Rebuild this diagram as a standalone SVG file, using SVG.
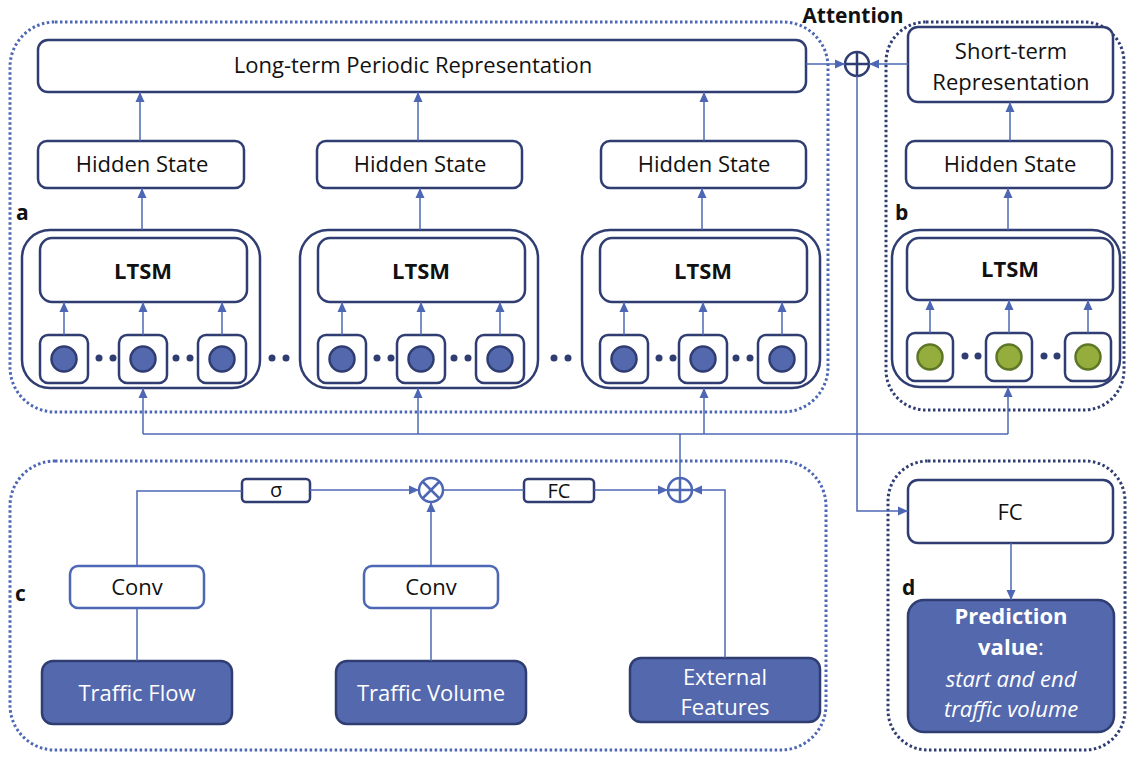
<svg xmlns="http://www.w3.org/2000/svg" width="1127" height="757" viewBox="0 0 1127 757">
<style>
text{font-family:"Open Sans","Noto Sans","Liberation Sans",sans-serif;fill:#111;}
.t{font-size:22px;text-anchor:middle;}
.b{font-weight:bold;}
.lab{font-size:21px;font-weight:bold;}
.w{fill:#fff;}
.box{fill:#fff;stroke:#2f3d72;stroke-width:2.5;}
.lbox{fill:#fff;stroke:#4d67b4;stroke-width:2.5;}
.fbox{fill:#5468ad;stroke:#2f3d72;stroke-width:2.5;}
.cont{fill:none;stroke:#4d67b4;stroke-width:3;stroke-dasharray:2.5 2.5;}
.contd{fill:none;stroke:#2f3d72;stroke-width:3;stroke-dasharray:2.5 2.5;}
.con{fill:none;stroke:#4d67b4;stroke-width:1.5;}
.arr{marker-end:url(#ah);}
.dot{fill:#2f3d72;}
.bc{fill:#5468ad;stroke:#2f3d72;stroke-width:2.5;}
.gc{fill:#95ad3d;stroke:#5d7727;stroke-width:2.5;}
</style>
<defs>
<marker id="ah" markerUnits="userSpaceOnUse" markerWidth="10" markerHeight="10" viewBox="0 0 10 10" refX="10" refY="5" orient="auto">
<path d="M0,0.5 L10,5 L0,9.5 Z" fill="#4d67b4"/>
</marker>
<g id="lgrp">
<rect x="22" y="230" width="238" height="158" rx="28" class="box"/>
<rect x="40" y="238" width="207" height="64" rx="12" class="box"/>
<text x="143" y="279" class="t b">LTSM</text>
<rect x="40" y="335" width="48" height="48" rx="8" class="box"/>
<rect x="119" y="335" width="48" height="48" rx="8" class="box"/>
<rect x="198" y="335" width="48" height="48" rx="8" class="box"/>
<circle cx="64" cy="359" r="12.5" class="bc"/>
<circle cx="143" cy="359" r="12.5" class="bc"/>
<circle cx="222" cy="359" r="12.5" class="bc"/>
<circle cx="99" cy="358" r="3.5" class="dot"/>
<circle cx="113" cy="358" r="3.5" class="dot"/>
<circle cx="176" cy="358" r="3.5" class="dot"/>
<circle cx="190" cy="358" r="3.5" class="dot"/>
<line x1="64" y1="335" x2="64" y2="302" class="con arr"/>
<line x1="143" y1="335" x2="143" y2="302" class="con arr"/>
<line x1="222" y1="335" x2="222" y2="302" class="con arr"/>
</g>
</defs>

<g id="container-a">
<rect x="10" y="22" width="818" height="390" rx="45" class="cont"/>
<text x="16" y="220" class="lab">a</text>
</g>
<g id="container-b">
<rect x="886" y="22" width="238" height="388" rx="40" class="contd"/>
<text x="895" y="220" class="lab">b</text>
</g>
<g id="container-c">
<rect x="10" y="461" width="816" height="289" rx="45" class="cont"/>
<text x="15" y="601" class="lab">c</text>
</g>
<g id="container-d">
<rect x="888" y="461" width="237" height="289" rx="40" class="contd"/>
<text x="902" y="595" class="lab">d</text>
</g>

<g id="long-term">
<rect x="38" y="40" width="768" height="52" rx="10" class="box"/>
<text x="413" y="73" class="t">Long-term Periodic Representation</text>
</g>
<g id="hidden-1">
<rect x="38" y="141" width="206" height="47" rx="9" class="box"/>
<text x="142" y="172" class="t">Hidden State</text>
</g>
<g id="hidden-2">
<rect x="317" y="141" width="205" height="47" rx="9" class="box"/>
<text x="420" y="172" class="t">Hidden State</text>
</g>
<g id="hidden-3">
<rect x="601" y="141" width="205" height="47" rx="9" class="box"/>
<text x="704" y="172" class="t">Hidden State</text>
</g>
<g id="lstm-1"><use href="#lgrp"/></g>
<g id="lstm-2"><use href="#lgrp" transform="translate(278,0)"/></g>
<g id="lstm-3"><use href="#lgrp" transform="translate(560,0)"/></g>
<g id="gap-dots">
<circle cx="272" cy="358" r="3.5" class="dot"/>
<circle cx="286" cy="358" r="3.5" class="dot"/>
<circle cx="554" cy="358" r="3.5" class="dot"/>
<circle cx="568" cy="358" r="3.5" class="dot"/>
</g>

<g id="short-term">
<rect x="908" y="27" width="205" height="75" rx="10" class="box"/>
<text x="1011" y="59" class="t">Short-term</text>
<text x="1011" y="90" class="t">Representation</text>
</g>
<g id="hidden-b">
<rect x="906" y="141" width="206" height="47" rx="9" class="box"/>
<text x="1010" y="172" class="t">Hidden State</text>
</g>
<g id="lstm-b">
<rect x="892" y="230" width="228" height="157" rx="28" class="box"/>
<rect x="907" y="238" width="206" height="62" rx="12" class="box"/>
<text x="1010" y="277" class="t b">LTSM</text>
<rect x="907" y="333" width="46" height="48" rx="8" class="box"/>
<rect x="986" y="333" width="46" height="48" rx="8" class="box"/>
<rect x="1065" y="333" width="46" height="48" rx="8" class="box"/>
<circle cx="930" cy="357" r="12.5" class="gc"/>
<circle cx="1009" cy="357" r="12.5" class="gc"/>
<circle cx="1088" cy="357" r="12.5" class="gc"/>
<circle cx="965" cy="356" r="3.5" class="dot"/>
<circle cx="978" cy="356" r="3.5" class="dot"/>
<circle cx="1044" cy="356" r="3.5" class="dot"/>
<circle cx="1057" cy="356" r="3.5" class="dot"/>
<line x1="930" y1="333" x2="930" y2="300" class="con arr"/>
<line x1="1009" y1="333" x2="1009" y2="300" class="con arr"/>
<line x1="1088" y1="333" x2="1088" y2="300" class="con arr"/>
</g>

<g id="attention">
<text x="853" y="23" class="lab" text-anchor="middle">Attention</text>
<circle cx="857" cy="64" r="12" fill="#fff" stroke="#2f3d72" stroke-width="2.5"/>
<line x1="845" y1="64" x2="869" y2="64" stroke="#2f3d72" stroke-width="2.5"/>
<line x1="857" y1="52" x2="857" y2="76" stroke="#2f3d72" stroke-width="2.5"/>
</g>

<g id="sigma">
<rect x="242" y="479" width="68" height="23" rx="4" class="box"/>
<text x="276" y="497" class="t" style="font-size:20px">σ</text>
</g>
<g id="mult">
<circle cx="431" cy="490" r="12" fill="#fff" stroke="#4d67b4" stroke-width="2.5"/>
<line x1="422.5" y1="481.5" x2="439.5" y2="498.5" stroke="#4d67b4" stroke-width="2.5"/>
<line x1="439.5" y1="481.5" x2="422.5" y2="498.5" stroke="#4d67b4" stroke-width="2.5"/>
</g>
<g id="fc-c">
<rect x="524" y="479" width="70" height="23" rx="4" class="box"/>
<text x="559" y="498" class="t" style="font-size:20px">FC</text>
</g>
<g id="plus-c">
<circle cx="680" cy="490" r="12" fill="#fff" stroke="#4d67b4" stroke-width="2.5"/>
<line x1="668" y1="490" x2="692" y2="490" stroke="#4d67b4" stroke-width="2.5"/>
<line x1="680" y1="478" x2="680" y2="502" stroke="#4d67b4" stroke-width="2.5"/>
</g>
<g id="conv-1">
<rect x="70" y="566" width="134" height="42" rx="8" class="lbox"/>
<text x="137" y="595" class="t">Conv</text>
</g>
<g id="conv-2">
<rect x="364" y="566" width="134" height="42" rx="8" class="lbox"/>
<text x="431" y="595" class="t">Conv</text>
</g>
<g id="traffic-flow">
<rect x="42" y="661" width="190" height="63" rx="11" class="fbox"/>
<text x="137" y="701" class="t w">Traffic Flow</text>
</g>
<g id="traffic-volume">
<rect x="336" y="661" width="190" height="63" rx="11" class="fbox"/>
<text x="431" y="701" class="t w">Traffic Volume</text>
</g>
<g id="external">
<rect x="630" y="658" width="190" height="64" rx="11" class="fbox"/>
<text x="725" y="685" class="t w">External</text>
<text x="725" y="715" class="t w">Features</text>
</g>

<g id="fc-d">
<rect x="908" y="480" width="205" height="63" rx="10" class="box"/>
<text x="1010" y="520" class="t">FC</text>
</g>
<g id="prediction">
<rect x="908" y="600" width="206" height="132" rx="16" class="fbox"/>
<text x="1011" y="624" class="t w b">Prediction</text>
<text x="1011" y="655" class="t w"><tspan font-weight="bold">value</tspan>:</text>
<text x="1011" y="687" class="t w" font-style="italic">start and end</text>
<text x="1011" y="717" class="t w" font-style="italic">traffic volume</text>
</g>

<g id="connectors">
<line x1="140" y1="141" x2="140" y2="92" class="con arr"/>
<line x1="418" y1="141" x2="418" y2="92" class="con arr"/>
<line x1="704" y1="141" x2="704" y2="92" class="con arr"/>
<line x1="142" y1="230" x2="142" y2="188" class="con arr"/>
<line x1="420" y1="230" x2="420" y2="188" class="con arr"/>
<line x1="702" y1="230" x2="702" y2="188" class="con arr"/>
<line x1="1008" y1="230" x2="1008" y2="188" class="con arr"/>
<line x1="1010" y1="141" x2="1010" y2="102" class="con arr"/>
<line x1="806" y1="64" x2="845" y2="64" class="con arr"/>
<line x1="908" y1="64" x2="869" y2="64" class="con arr"/>
<polyline points="857,76 857,511 908,511" class="con arr"/>
<line x1="143" y1="434" x2="1008" y2="434" class="con"/>
<line x1="143" y1="434" x2="143" y2="388" class="con arr"/>
<line x1="418" y1="434" x2="418" y2="388" class="con arr"/>
<line x1="704" y1="434" x2="704" y2="388" class="con arr"/>
<line x1="1008" y1="434" x2="1008" y2="387" class="con arr"/>
<line x1="680" y1="478" x2="680" y2="434" class="con"/>
<polyline points="137,566 137,491 242,491" class="con"/>
<line x1="310" y1="490" x2="419" y2="490" class="con arr"/>
<line x1="431" y1="566" x2="431" y2="502" class="con arr"/>
<line x1="137" y1="661" x2="137" y2="608" class="con"/>
<line x1="431" y1="661" x2="431" y2="608" class="con"/>
<line x1="443" y1="490" x2="524" y2="490" class="con"/>
<line x1="594" y1="490" x2="668" y2="490" class="con arr"/>
<polyline points="725,658 725,490 692,490" class="con arr"/>
<line x1="1011" y1="543" x2="1011" y2="600" class="con arr"/>
</g>
</svg>
